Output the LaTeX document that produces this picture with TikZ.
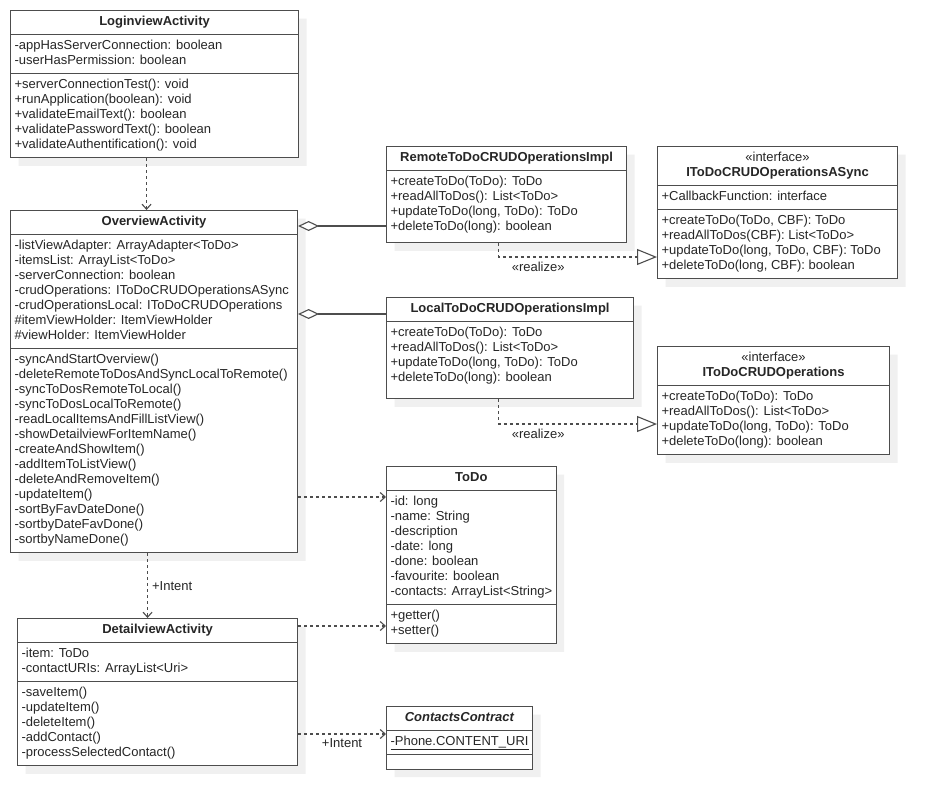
\documentclass[tikz,border=0pt]{standalone}
\usepackage{fontspec}
\setmainfont{Liberation Sans}
\usepackage{xcolor}
\usepackage{tikz}
\usetikzlibrary{shapes.multipart, arrows.meta, shadows, calc}
\definecolor{linegray}{HTML}{4D4D4D}
\definecolor{textgray}{HTML}{262626}
\definecolor{shadowgray}{HTML}{F0F0F0}

\tikzset{
  umlclass/.style={draw=linegray, line width=1.1pt, fill=white,
    rectangle split, rectangle split parts=#1,
    rectangle split ignore empty parts=false,
    rectangle split part align={center,left,left},
    align=left, anchor=north west, inner xsep=4pt, inner ysep=4pt,
    text=textgray, font=\fontsize{13}{15}\selectfont,
    drop shadow={shadow xshift=8pt, shadow yshift=-8pt, fill=shadowgray, opacity=1}},
  dep/.style={draw=linegray, line width=1.1pt, dash pattern=on 3pt off 3pt,
    -{Straight Barb[length=5pt, width=9pt]}},
  realize/.style={draw=linegray, line width=1.1pt, dash pattern=on 3pt off 3pt,
    -{Triangle[open, length=20pt, width=16pt, fill=white]}},
  aggr/.style={draw=linegray, line width=1.1pt,
    {Diamond[open, length=21pt, width=10pt, fill=white]}-},
  conlabel/.style={text=textgray, font=\fontsize{13}{15}\selectfont, inner sep=1pt},
}

\begin{document}
\begin{tikzpicture}[x=1pt, y=-1pt]
  \fill[white] (0,0) rectangle (930,803);
  \useasboundingbox (0,0) rectangle (930,803);

  % activities
  \node[umlclass=3, minimum width=288pt] (login) at (10,10) {\strut\textbf{LoginviewActivity}
    \nodepart{two}\strut-appHasServerConnection: boolean\\-userHasPermission: boolean\strut
    \nodepart{three}\strut+serverConnectionTest(): void\\+runApplication(boolean): void\\
      +validateEmailText(): boolean\\+validatePasswordText(): boolean\\
      +validateAuthentification(): void\strut};

  \node[umlclass=3, minimum width=287pt] (overview) at (10,210) {\strut\textbf{OverviewActivity}
    \nodepart{two}\strut-listViewAdapter: ArrayAdapter<ToDo>\\-itemsList: ArrayList<ToDo>\\
      -serverConnection: boolean\\-crudOperations: IToDoCRUDOperationsASync\\
      -crudOperationsLocal: IToDoCRUDOperations\\\#itemViewHolder: ItemViewHolder\\
      \#viewHolder: ItemViewHolder\strut
    \nodepart{three}\strut-syncAndStartOverview()\\-deleteRemoteToDosAndSyncLocalToRemote()\\
      -syncToDosRemoteToLocal()\\-syncToDosLocalToRemote()\\-readLocalItemsAndFillListView()\\
      -showDetailviewForItemName()\\-createAndShowItem()\\-addItemToListView()\\
      -deleteAndRemoveItem()\\-updateItem()\\-sortByFavDateDone()\\-sortbyDateFavDone()\\
      -sortbyNameDone()\strut};

  \node[umlclass=3, minimum width=280pt] (detail) at (17,618) {\strut\textbf{DetailviewActivity}
    \nodepart{two}\strut-item: ToDo\\-contactURIs: ArrayList<Uri>\strut
    \nodepart{three}\strut-saveItem()\\-updateItem()\\-deleteItem()\\-addContact()\\
      -processSelectedContact()\strut};

  % crud implementations and interfaces
  \node[umlclass=2, minimum width=240pt] (remote) at (386,146)
    {\strut\textbf{RemoteToDoCRUDOperationsImpl}
    \nodepart{two}\strut+createToDo(ToDo): ToDo\\+readAllToDos(): List<ToDo>\\
      +updateToDo(long, ToDo): ToDo\\+deleteToDo(long): boolean\rule[-7.5pt]{0pt}{1pt}};

  \node[umlclass=3, minimum width=240pt] (iasync) at (657,146)
    {\begin{tabular}{@{}c@{}}«interface»\\\textbf{IToDoCRUDOperationsASync}\end{tabular}
    \nodepart{two}\strut+CallbackFunction: interface\strut
    \nodepart{three}\strut+createToDo(ToDo, CBF): ToDo\\+readAllToDos(CBF): List<ToDo>\\
      +updateToDo(long, ToDo, CBF): ToDo\\+deleteToDo(long, CBF): boolean\strut};

  \node[umlclass=2, minimum width=247pt] (local) at (386,297)
    {\strut\textbf{LocalToDoCRUDOperationsImpl}
    \nodepart{two}\strut+createToDo(ToDo): ToDo\\+readAllToDos(): List<ToDo>\\
      +updateToDo(long, ToDo): ToDo\\+deleteToDo(long): boolean\rule[-12.5pt]{0pt}{1pt}};

  \node[umlclass=2, minimum width=232pt] (icrud) at (657,346)
    {\begin{tabular}{@{}c@{}}«interface»\\\textbf{IToDoCRUDOperations}\end{tabular}
    \nodepart{two}\strut+createToDo(ToDo): ToDo\\+readAllToDos(): List<ToDo>\\
      +updateToDo(long, ToDo): ToDo\\+deleteToDo(long): boolean\strut};

  % model and contacts
  \node[umlclass=3, minimum width=169pt] (todo) at (386,466) {\strut\textbf{ToDo}
    \nodepart{two}\strut-id: long\\-name: String\\-description\\-date: long\\-done: boolean\\
      -favourite: boolean\\-contacts: ArrayList<String>\strut
    \nodepart{three}\strut+getter()\\+setter()\strut};

  \node[umlclass=3, minimum width=146pt] (contacts) at (386,706)
    {\strut\textbf{\textit{ContactsContract}}
    \nodepart{two}\strut\underline{-Phone.CONTENT\_URI}
    \nodepart{three}};

  % connectors
  \draw[dep] ([xshift=-8pt]login.south) coordinate (l1) -- (l1 |- overview.north);
  \draw[dep] ([xshift=-6.5pt]overview.south) coordinate (o1) -- (o1 |- detail.north)
    node[midway, right=3pt, conlabel] {+Intent};
  \draw[aggr] ([yshift=-16pt]overview.north east) coordinate (a1) -- (a1 -| remote.west);
  \draw[aggr] ([yshift=-104pt]overview.north east) coordinate (a2) -- (a2 -| local.west);
  \draw[realize] ([xshift=-8pt]remote.south) |- ([yshift=-111pt]iasync.north west)
    node[pos=0.625, below=4pt, conlabel] {«realize»};
  \draw[realize] ([xshift=-11.5pt]local.south) |- ([yshift=-78pt]icrud.north west)
    node[pos=0.625, below=4pt, conlabel] {«realize»};
  \draw[dep] ([yshift=-287pt]overview.north east) coordinate (t1) -- (t1 -| todo.west);
  \draw[dep] ([yshift=-8pt]detail.north east) coordinate (t2) -- (t2 -| todo.west);
  \draw[dep] ([yshift=-116pt]detail.north east) coordinate (c1) -- (c1 -| contacts.west)
    node[midway, below=3pt, conlabel] {+Intent};
\end{tikzpicture}
\end{document}
